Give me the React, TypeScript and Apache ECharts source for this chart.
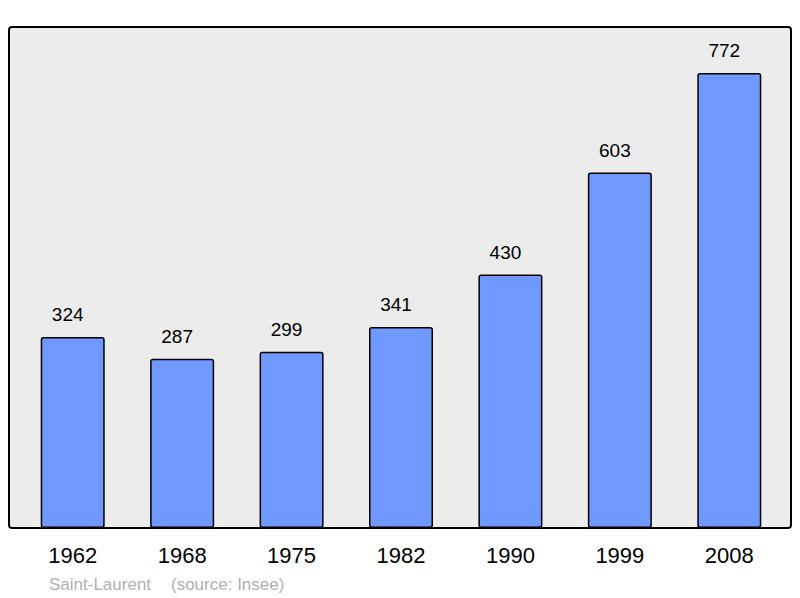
import React, { useEffect, useRef } from "react";
import * as echarts from "echarts";

const years = ["1962", "1968", "1975", "1982", "1990", "1999", "2008"];
const population = [324, 287, 299, 341, 430, 603, 772];
const footerPlace = "Saint-Laurent";
const footerSource = "(source: Insee)";

export default function App() {
  const ref = useRef<HTMLDivElement>(null);
  useEffect(() => {
    if (!ref.current) return;
    const chart = echarts.init(ref.current, null, { renderer: "svg" });
    chart.setOption({
      animation: false,
      backgroundColor: "#ffffff",
      textStyle: { fontFamily: "Liberation Sans" },
      graphic: [
        {
          type: "rect",
          z: -10,
          silent: true,
          shape: { x: 9, y: 27, width: 782, height: 501, r: 3 },
          style: { fill: "#ececec", stroke: "#000000", lineWidth: 2 },
        },
        {
          type: "text",
          x: 49,
          y: 584,
          style: {
            text: footerPlace,
            fill: "#b0b0b0",
            font: "17px 'Liberation Sans'",
            verticalAlign: "middle",
          },
        },
        {
          type: "text",
          x: 171,
          y: 584,
          style: {
            text: footerSource,
            fill: "#b0b0b0",
            font: "17px 'Liberation Sans'",
            verticalAlign: "middle",
          },
        },
      ],
      grid: { left: 18, width: 766, top: 27, height: 501, containLabel: false },
      xAxis: {
        type: "category",
        data: years,
        axisLine: { show: false },
        axisTick: { show: false },
        axisLabel: { color: "#000000", fontSize: 22, margin: 16, fontFamily: "Liberation Sans" },
      },
      yAxis: {
        type: "value",
        min: 0,
        max: 850,
        show: false,
        splitLine: { show: false },
      },
      series: [
        {
          type: "bar",
          data: population,
          barWidth: 64,
          itemStyle: {
            color: "#7099ff",
            borderColor: "#000000",
            borderWidth: 1.5,
            borderRadius: 2,
          },
          label: {
            show: true,
            position: "top",
            distance: 13,
            offset: [-5, 0],
            color: "#000000",
            fontSize: 19,
            fontFamily: "Liberation Sans",
          },
        },
      ],
    });
    return () => chart.dispose();
  }, []);
  return (
    <div
      ref={ref}
      style={{ position: "fixed", left: 0, top: 0, width: 800, height: 598 }}
    />
  );
}
